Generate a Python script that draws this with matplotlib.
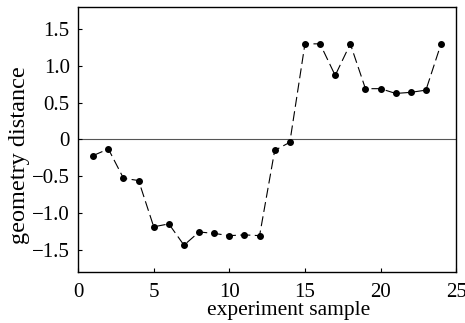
import numpy as np
from matplotlib import pyplot as plt
from matplotlib.ticker import FuncFormatter

plt.rcParams.update({
  "font.family": ['Liberation Serif', 'DejaVu Serif'],
  "font.size": 15,
})

sample = np.arange(1, 25)
distance = [-0.22, -0.13, -0.53, -0.56, -1.19, -1.15, -1.44, -1.26,
            -1.28, -1.31, -1.30, -1.31, -0.15, -0.04, 1.30, 1.30,
            0.87, 1.30, 0.69, 0.69, 0.625, 0.64, 0.67, 1.30]
yticks = [-1.5, -1.0, -0.5, 0, 0.5, 1.0, 1.5]
xticks = [0, 5, 10, 15, 20, 25]

fig = plt.figure(figsize=(4.65, 3.23), dpi=100)
ax = fig.add_axes([0.168, 0.159, 0.813, 0.819])

ax.axhline(0, color='#555555', linewidth=0.8, zorder=1)
ax.plot(sample, distance, color='black', linestyle=(0, (9, 4)), linewidth=0.8,
        marker='o', markersize=4, zorder=2)

ax.set_xlim(0, 25)
ax.set_ylim(-1.8, 1.8)
ax.set_xticks(xticks)
ax.set_yticks(yticks)

def fmt(v, pos):
    if v == 0:
        return "0"
    s = "%.1f" % abs(v)
    return ("\u2212" + s) if v < 0 else s

ax.yaxis.set_major_formatter(FuncFormatter(fmt))
ax.tick_params(direction='in', length=3, width=0.8, top=False, right=False)
ax.tick_params(axis='x', pad=8)
ax.tick_params(axis='y', pad=6)
for sp in ax.spines.values():
    sp.set_linewidth(1.0)

ax.set_xlabel("experiment sample", fontsize=15.5)
ax.set_ylabel("geometry distance", fontsize=17.5)
# labels sit a bit off-centre in the original
ax.xaxis.set_label_coords(0.558, -0.112)
ax.yaxis.set_label_coords(-0.128, 0.44)

fig.savefig('out.png', dpi=100)
